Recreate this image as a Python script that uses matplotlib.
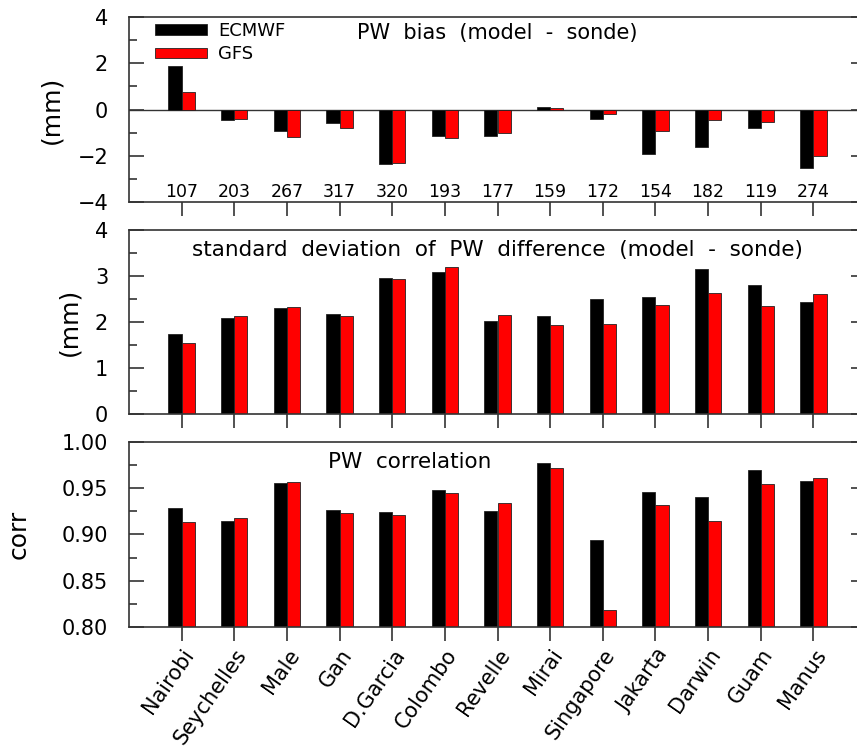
import numpy as np
import matplotlib
matplotlib.use('Agg')
import matplotlib.pyplot as plt
from matplotlib.ticker import MultipleLocator, FormatStrFormatter

# Stations and sample counts
stations = ['Nairobi', 'Seychelles', 'Male', 'Gan', 'D.Garcia', 'Colombo', 'Revelle',
            'Mirai', 'Singapore', 'Jakarta', 'Darwin', 'Guam', 'Manus']
counts = [107, 203, 267, 317, 320, 193, 177, 159, 172, 154, 182, 119, 274]

# PW bias (mm)
bias_ecmwf = [1.90, -0.47, -0.94, -0.58, -2.35, -1.16, -1.16, 0.10, -0.40, -1.94, -1.62, -0.80, -2.55]
bias_gfs = [0.77, -0.41, -1.20, -0.79, -2.32, -1.25, -1.00, 0.05, -0.18, -0.93, -0.47, -0.54, -2.01]

# std dev of PW difference (mm)
std_ecmwf = [1.75, 2.09, 2.30, 2.18, 2.96, 3.09, 2.02, 2.13, 2.49, 2.54, 3.15, 2.80, 2.43]
std_gfs = [1.54, 2.13, 2.33, 2.12, 2.93, 3.19, 2.15, 1.93, 1.96, 2.38, 2.62, 2.34, 2.60]

# PW correlation
corr_ecmwf = [0.929, 0.915, 0.956, 0.926, 0.924, 0.948, 0.925, 0.977, 0.894, 0.946, 0.940, 0.970, 0.958]
corr_gfs = [0.914, 0.918, 0.957, 0.923, 0.921, 0.945, 0.934, 0.972, 0.818, 0.932, 0.915, 0.955, 0.961]

plt.rcParams['font.family'] = 'DejaVu Sans'
x = np.arange(len(stations))
w = 0.25
frame = '#333333'

fig = plt.figure(figsize=(8.57, 7.48), dpi=100)
left, width = 129 / 857, 737 / 857
ax1 = fig.add_axes([left, 1 - 202 / 748, width, 185 / 748])
ax2 = fig.add_axes([left, 1 - 414 / 748, width, 184 / 748])
ax3 = fig.add_axes([left, 1 - 627 / 748, width, 185 / 748])

# top panel: bias
ax1.bar(x - w / 2, bias_ecmwf, w, color='black', edgecolor='#222222', linewidth=0.6, label='ECMWF')
ax1.bar(x + w / 2, bias_gfs, w, color='#ff0000', edgecolor='#222222', linewidth=0.6, label='GFS')
ax1.axhline(0, color=frame, lw=1.0, zorder=0)
for xi, n in zip(x, counts):
    ax1.text(xi, -3.57, str(n), ha='center', va='center', fontsize=12.5)
ax1.text(0.50, 0.913, 'PW  bias  (model  -  sonde)', transform=ax1.transAxes,
         ha='center', va='center', fontsize=15)
ax1.legend(loc='upper left', bbox_to_anchor=(26 / 737, 180 / 185), frameon=False, fontsize=13,
           borderaxespad=0, borderpad=0, handlelength=2.9, handleheight=0.55,
           handletextpad=0.6, labelspacing=0.3)
ax1.set_ylabel('(mm)', fontsize=18, labelpad=10)

# middle panel: std dev
ax2.bar(x - w / 2, std_ecmwf, w, color='black', edgecolor='#222222', linewidth=0.6)
ax2.bar(x + w / 2, std_gfs, w, color='#ff0000', edgecolor='#222222', linewidth=0.6)
ax2.text(0.50, 0.891, 'standard  deviation  of  PW  difference  (model  -  sonde)',
         transform=ax2.transAxes, ha='center', va='center', fontsize=15.5)
ax2.set_ylabel('(mm)', fontsize=18, labelpad=10)

# bottom panel: correlation
ax3.bar(x - w / 2, corr_ecmwf, w, color='black', edgecolor='#222222', linewidth=0.6)
ax3.bar(x + w / 2, corr_gfs, w, color='#ff0000', edgecolor='#222222', linewidth=0.6)
ax3.text(0.381, 0.892, 'PW  correlation', transform=ax3.transAxes,
         ha='center', va='center', fontsize=15.5)
ax3.set_ylabel('corr', fontsize=18, labelpad=22)

for ax, ylim, major, minor in [(ax1, (-4, 4), 2, 1), (ax2, (0, 4), 1, 0.5), (ax3, (0.8, 1.0), 0.05, 0.025)]:
    ax.set_xlim(-1, 13)
    ax.set_ylim(*ylim)
    ax.yaxis.set_major_locator(MultipleLocator(major))
    ax.yaxis.set_minor_locator(MultipleLocator(minor))
    ax.tick_params(axis='y', which='both', direction='in', left=True, right=True,
                   labelsize=15, pad=15, width=1.2, color=frame)
    ax.tick_params(axis='y', which='major', length=11)
    ax.tick_params(axis='y', which='minor', length=5.5)
    ax.set_xticks(x)
    ax.tick_params(axis='x', direction='out', length=10, width=1.2, color=frame,
                   top=False, labelbottom=False)
    for s in ax.spines.values():
        s.set_linewidth(1.2)
        s.set_color(frame)

ax3.yaxis.set_major_formatter(FormatStrFormatter('%.2f'))
ax3.tick_params(axis='x', labelbottom=True, labelsize=15, pad=3)
ax3.set_xticklabels(stations, rotation=55, ha='right', va='top', rotation_mode='anchor')

fig.savefig('out.png', dpi=100)
